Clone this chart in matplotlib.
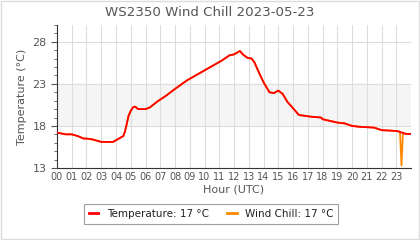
import matplotlib
matplotlib.use("Agg")
import matplotlib.pyplot as plt
from matplotlib.patches import Rectangle

title = "WS2350 Wind Chill 2023-05-23"
hour_labels = ["%02d" % h for h in range(24)]

hours = [0.0, 0.3, 0.6, 1.0, 1.4, 1.8, 2.0, 2.4, 2.8, 3.0, 3.4, 3.8, 4.0, 4.3,
         4.5, 4.6, 4.7, 4.85, 5.0, 5.15, 5.3, 5.5, 6.0, 6.3, 6.8, 7.4, 8.0, 8.8,
         9.6, 10.6, 11.2, 11.7, 12.0, 12.4, 12.6, 12.9, 13.2, 13.4, 13.7, 14.0,
         14.4, 14.7, 15.0, 15.3, 15.6, 16.0, 16.4, 17.2, 17.9, 18.0, 18.5, 19.0,
         19.5, 20.0, 20.5, 21.0, 21.5, 22.0, 22.5, 23.0, 23.25, 23.35, 23.45,
         23.55, 23.7, 24.0]
temperature = [17.2, 17.1, 17.0, 17.0, 16.8, 16.5, 16.5, 16.4, 16.2, 16.1, 16.1, 16.1,
               16.3, 16.6, 16.8, 17.3, 18.0, 19.2, 19.8, 20.2, 20.3, 20.0, 20.0, 20.2,
               20.9, 21.6, 22.4, 23.4, 24.2, 25.2, 25.8, 26.4, 26.5, 26.9, 26.5, 26.1,
               26.0, 25.5, 24.3, 23.2, 22.0, 21.9, 22.2, 21.8, 20.9, 20.1, 19.3, 19.1,
               19.0, 18.8, 18.6, 18.4, 18.3, 18.0, 17.9, 17.85, 17.8, 17.5, 17.45, 17.4,
               17.3, 17.2, 17.2, 17.1, 17.05, 17.05]
wind_chill = [17.2, 17.1, 17.0, 17.0, 16.8, 16.5, 16.5, 16.4, 16.2, 16.1, 16.1, 16.1,
              16.3, 16.6, 16.8, 17.3, 18.0, 19.2, 19.8, 20.2, 20.3, 20.0, 20.0, 20.2,
              20.9, 21.6, 22.4, 23.4, 24.2, 25.2, 25.8, 26.4, 26.5, 26.9, 26.5, 26.1,
              26.0, 25.5, 24.3, 23.2, 22.0, 21.9, 22.2, 21.8, 20.9, 20.1, 19.3, 19.1,
              19.0, 18.8, 18.6, 18.4, 18.3, 18.0, 17.9, 17.85, 17.8, 17.5, 17.45, 17.4,
              17.3, 13.3, 17.2, 17.1, 17.05, 17.05]

text_color = "#555555"
fig = plt.figure(figsize=(4.2, 2.4), dpi=100)
fig.patches.append(Rectangle((0.002, 0.004), 0.995, 0.992, transform=fig.transFigure,
                             fill=False, edgecolor="#dddddd", linewidth=1))
ax = fig.add_axes([0.1357, 0.30, 0.843, 0.596])

ax.axhspan(18, 23, color="#f5f5f5", zorder=0)
for h in range(1, 24):
    ax.axvline(h, color="#dddddd", linewidth=0.8, zorder=1)
for y in [18, 23, 28]:
    ax.axhline(y, color="#dddddd", linewidth=0.8, zorder=1)

l2, = ax.plot(hours, wind_chill, color="#ff8800", linewidth=1.3, zorder=2,
              label="Wind Chill: 17 °C")
l1, = ax.plot(hours, temperature, color="#ff0000", linewidth=1.3, zorder=3,
              label="Temperature: 17 °C")

ax.set_xlim(0, 24)
ax.set_ylim(13, 30)
ax.set_xticks(range(24))
ax.set_xticklabels(hour_labels)
ax.set_yticks([13, 18, 23, 28])
ax.set_yticks(range(13, 31), minor=True)
ax.tick_params(axis="x", length=0, labelsize=7, colors=text_color, pad=3)
ax.tick_params(axis="y", which="major", length=4, labelsize=8, colors=text_color)
ax.tick_params(axis="y", which="minor", length=2, color=text_color)
for s in ["top", "right"]:
    ax.spines[s].set_visible(False)
for s in ["left", "bottom"]:
    ax.spines[s].set_color("#333333")

ax.set_xlabel("Hour (UTC)", fontsize=8, color=text_color, labelpad=2)
ax.set_ylabel("Temperature (°C)", fontsize=8, color=text_color)
fig.text(0.5, 0.948, title, ha="center", va="center", fontsize=9.6, color=text_color)

leg = fig.legend([l1, l2], ["Temperature: 17 °C", "Wind Chill: 17 °C"],
                 loc="center", bbox_to_anchor=(0.503, 0.108), ncol=2, fontsize=7.5,
                 frameon=True, fancybox=False, handlelength=0.9, handletextpad=0.8,
                 columnspacing=1.8, borderpad=0.45)
for line in leg.get_lines():
    line.set_linewidth(2)
leg.get_frame().set_edgecolor("#888888")
leg.get_frame().set_linewidth(0.8)
for t in leg.get_texts():
    t.set_color("#222222")

fig.savefig("out.png", dpi=100)
